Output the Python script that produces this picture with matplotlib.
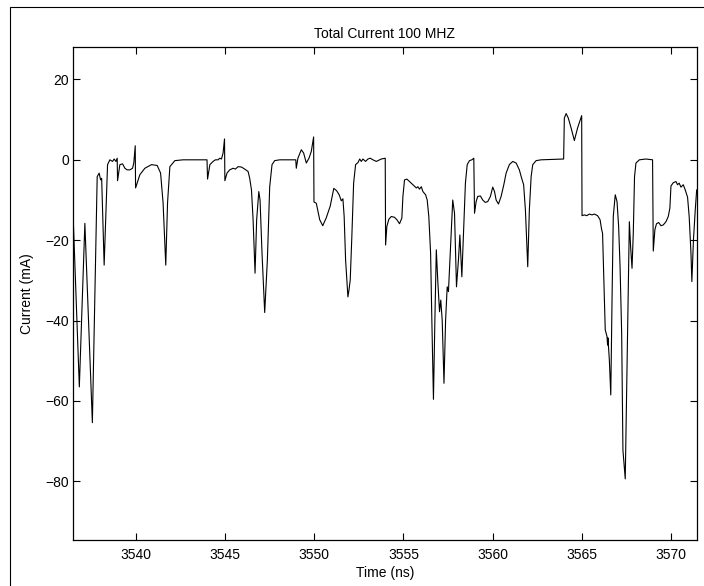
import matplotlib
matplotlib.use('Agg')
import matplotlib.pyplot as plt
from matplotlib.patches import Rectangle

plt.rcParams['font.family'] = ['Liberation Sans', 'DejaVu Sans']
plt.rcParams['font.size'] = 10

# time (ns) and current (mA)
t = [3536.48, 3536.85, 3537.16, 3537.58, 3537.85, 3537.96,
     3538.04, 3538.10, 3538.24, 3538.43,
     3538.56, 3538.71, 3538.80, 3538.90, 3538.97, 3538.99, 3539.12, 3539.27, 3539.40, 3539.53,
     3539.68, 3539.83, 3539.90, 3539.98, 3540.00, 3540.24, 3540.52, 3540.89, 3541.21, 3541.40,
     3541.54, 3541.69, 3541.79, 3541.92, 3542.20, 3542.66, 3544.00, 3544.03, 3544.16, 3544.34,
     3544.47, 3544.62, 3544.71, 3544.81, 3544.90, 3544.98, 3545.00, 3545.12, 3545.27, 3545.46,
     3545.59, 3545.74, 3545.93, 3546.11, 3546.30, 3546.39, 3546.49, 3546.58, 3546.69, 3546.78,
     3546.90, 3546.97, 3547.08, 3547.23, 3547.38, 3547.51, 3547.64, 3547.79, 3548.07, 3548.97,
     3549.00, 3549.09, 3549.28, 3549.41, 3549.56, 3549.71, 3549.84, 3549.97, 3549.99, 3550.12,
     3550.31, 3550.48, 3550.68, 3550.90, 3551.10, 3551.26, 3551.40, 3551.52, 3551.61, 3551.68,
     3551.76, 3551.89, 3551.95, 3552.02, 3552.11, 3552.21, 3552.32, 3552.45, 3552.55, 3552.64,
     3552.73, 3552.88, 3553.01, 3553.14, 3553.29, 3553.48, 3553.76, 3553.98, 3554.00, 3554.07,
     3554.18, 3554.32, 3554.50, 3554.63, 3554.78, 3554.91, 3554.97, 3555.06, 3555.19, 3555.34,
     3555.53, 3555.72, 3555.81, 3555.90, 3556.00, 3556.09, 3556.24, 3556.33, 3556.42, 3556.52,
     3556.59, 3556.68, 3556.76, 3556.84, 3556.92, 3557.02, 3557.09, 3557.17, 3557.27, 3557.36,
     3557.45, 3557.52, 3557.76, 3557.86, 3557.97, 3558.08, 3558.16, 3558.27, 3558.38, 3558.47,
     3558.57, 3558.70, 3558.83, 3558.94, 3558.98, 3559.07, 3559.16, 3559.31, 3559.44, 3559.58,
     3559.72, 3559.87, 3560.00, 3560.10, 3560.19, 3560.32, 3560.47, 3560.62, 3560.75, 3560.93,
     3561.12, 3561.31, 3561.49, 3561.62, 3561.73, 3561.83, 3561.96, 3562.05, 3562.15, 3562.24,
     3562.43, 3562.71, 3563.97, 3564.01, 3564.11, 3564.23, 3564.39, 3564.57, 3564.75, 3564.98,
     3565.00, 3565.13, 3565.26, 3565.41, 3565.56, 3565.69, 3565.87, 3566.01, 3566.10, 3566.15,
     3566.21, 3566.30, 3566.40, 3566.43, 3566.45, 3566.53, 3566.61, 3566.68, 3566.75, 3566.86,
     3566.96, 3567.05, 3567.13, 3567.22, 3567.29, 3567.42, 3567.52, 3567.59, 3567.65, 3567.72,
     3567.80, 3567.87, 3567.94, 3568.02, 3568.21, 3568.58, 3568.95, 3568.99, 3569.08, 3569.17,
     3569.29, 3569.42, 3569.55, 3569.70, 3569.83, 3569.92, 3569.98, 3570.11, 3570.26, 3570.35,
     3570.44, 3570.54, 3570.67, 3570.78, 3570.91, 3571.00, 3571.10, 3571.15, 3571.24, 3571.34,
     3571.42]
cur = [-11.2, -56.5, -15.8, -65.4, -4.2, -3.3,
       -5.0, -4.6, -26.2, -1.2,
       0.0, -0.4, 0.2, -0.4, 0.4, -5.2, -1.2, -1.0, -2.1, -2.5,
       -2.5, -2.1, -0.8, 3.5, -7.0, -3.7, -2.1, -1.2, -1.4, -3.3,
       -10.7, -26.2, -10.7, -1.7, -0.2, 0.0, 0.0, -4.8, -1.2, -0.4,
       0.0, 0.0, 0.4, 0.2, 1.7, 5.2, -5.2, -3.3, -2.5, -2.1,
       -2.3, -1.7, -1.8, -2.3, -2.9, -4.6, -7.5, -14.9, -28.2, -14.9,
       -7.9, -10.0, -23.2, -38.0, -24.9, -6.7, -1.2, -0.2, 0.0, 0.0,
       -2.1, 0.4, 2.5, 1.7, -0.8, 0.4, 2.1, 5.7, -10.5, -10.8,
       -14.9, -16.4, -14.4, -11.5, -7.1, -7.7, -8.7, -10.2, -9.7, -14.1,
       -24.9, -34.1, -32.4, -29.9, -19.1, -5.8, -1.2, -0.7, 0.2, -0.4,
       0.2, -0.4, 0.2, 0.4, 0.0, -0.4, 0.2, 0.4, -21.2, -16.6,
       -14.8, -14.1, -14.3, -14.9, -15.9, -14.5, -9.1, -5.0, -4.8, -5.4,
       -6.2, -7.0, -6.7, -7.3, -6.7, -7.9, -8.7, -10.0, -14.1, -23.2,
       -39.9, -59.6, -39.9, -22.4, -29.9, -37.8, -34.9, -39.9, -55.6, -39.9,
       -31.6, -32.8, -10.0, -13.3, -31.6, -24.9, -18.7, -29.1, -16.6, -5.8,
       -1.2, -0.2, 0.0, 0.4, -13.3, -10.4, -9.1, -9.0, -10.0, -10.6,
       -10.4, -9.1, -6.8, -7.9, -10.0, -11.0, -9.1, -6.2, -3.3, -1.2,
       -0.4, -0.8, -2.5, -4.6, -6.2, -12.5, -26.6, -12.5, -4.2, -1.2,
       -0.2, 0.0, 0.2, 10.4, 11.5, 10.4, 7.9, 4.8, 7.9, 11.0,
       -13.9, -13.7, -13.9, -13.5, -13.7, -13.5, -13.9, -14.9, -17.4, -18.3,
       -28.2, -42.3, -44.0, -46.1, -44.3, -49.8, -58.5, -34.9, -14.1, -8.7,
       -10.4, -16.6, -26.6, -43.2, -72.2, -79.4, -51.5, -30.7, -15.4, -21.6,
       -27.0, -18.3, -4.2, -0.8, 0.0, 0.2, 0.0, -22.7, -17.4, -15.9,
       -15.6, -16.4, -16.2, -15.4, -14.1, -12.0, -6.5, -5.7, -5.4, -6.2,
       -5.8, -6.8, -6.2, -7.5, -9.3, -14.1, -23.2, -30.3, -19.9, -12.5,
       -7.5]

xticks = [3540, 3545, 3550, 3555, 3560, 3565, 3570]
yticks = [-80, -60, -40, -20, 0, 20]

fig = plt.figure(figsize=(7.04, 5.86), dpi=100)
ax = fig.add_axes([0.1033, 0.0785, 0.8868, 0.8408])

# frame around the whole figure
fig.patches.append(Rectangle((10 / 704, -0.01), 1.0, 1 - 7 / 586 + 0.01,
                             transform=fig.transFigure, fill=False,
                             edgecolor='black', linewidth=0.8))

ax.plot(t, cur, color='black', linewidth=0.8)
ax.set_xlim(3536.48, 3571.44)
ax.set_ylim(-94.6, 28)
ax.set_xticks(xticks)
ax.set_yticks(yticks)
ax.set_yticklabels([str(v).replace('-', '\u2212') for v in yticks])
ax.tick_params(direction='in', length=5, width=0.8, top=True, right=True)
ax.tick_params(axis='x', pad=5.5)
ax.tick_params(axis='y', pad=2.5)
for s in ax.spines.values():
    s.set_linewidth(0.9)

ax.set_title('Total Current 100 MHZ', fontsize=10, pad=7)
ax.set_xlabel('Time (ns)', labelpad=3)
ax.set_ylabel('Current (mA)', labelpad=8)

plt.savefig('out.png', dpi=100)
